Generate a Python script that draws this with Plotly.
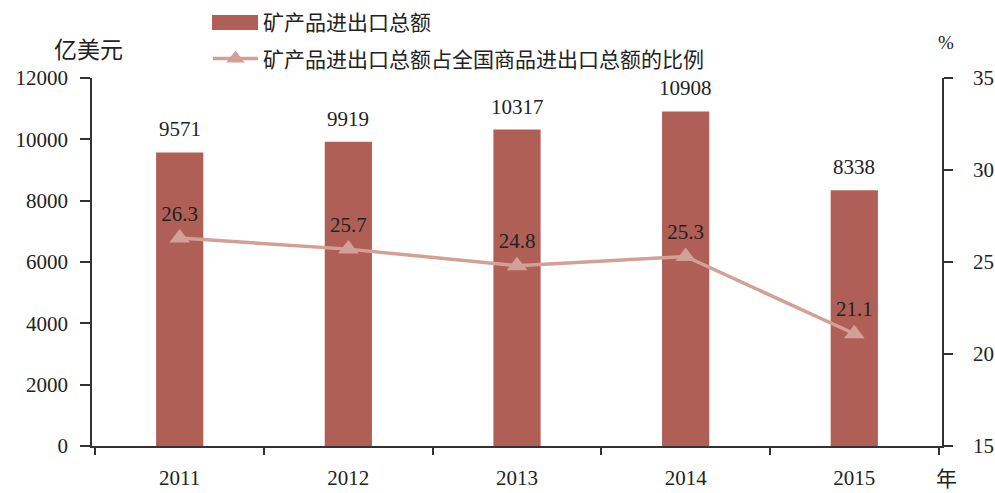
import plotly.graph_objects as go

years = ["2011", "2012", "2013", "2014", "2015"]
trade_total = [9571, 9919, 10317, 10908, 8338]
share_pct = [26.3, 25.7, 24.8, 25.3, 21.1]

bar_name = "矿产品进出口总额"
line_name = "矿产品进出口总额占全国商品进出口总额的比例"

FONT = "Liberation Serif, Times New Roman, Noto Sans CJK SC, serif"
CJK = "Noto Sans CJK SC, sans-serif"
AXIS_COLOR = "#333333"
TEXT_COLOR = "#222222"
BAR_COLOR = "#AF5F56"
LINE_COLOR = "#D3A096"

fig = go.Figure()
fig.add_trace(go.Bar(
    x=years, y=trade_total, name=bar_name, legendgroup="a",
    marker=dict(color=BAR_COLOR, line=dict(width=0)),
    width=0.28,
    yaxis="y",
))
fig.add_trace(go.Scatter(
    x=years, y=share_pct, name=line_name, legendgroup="b",
    mode="lines+markers+text",
    line=dict(color=LINE_COLOR, width=3.5),
    marker=dict(symbol="triangle-up", size=18, color=LINE_COLOR),
    text=[f"{v:.1f}" for v in share_pct], textposition="top center",
    textfont=dict(family=FONT, size=21, color=TEXT_COLOR),
    yaxis="y2",
))

for i, v in enumerate(trade_total):
    fig.add_annotation(x=i, y=v, xref="x", yref="y", text=str(v), showarrow=False,
                       yanchor="bottom", yshift=9,
                       font=dict(family=FONT, size=21, color=TEXT_COLOR))

W, H = 995, 493
L, R, T, B = 92, 53, 78, 47
pw, ph = W - L - R, H - T - B
def px(xp):
    return (xp - L) / pw
def py(yp):
    return (H - B - yp) / ph

fig.update_layout(
    width=W, height=H,
    margin=dict(l=L, r=R, t=T, b=B, autoexpand=False),
    plot_bgcolor="white", paper_bgcolor="white",
    font=dict(family=FONT, size=21, color=TEXT_COLOR),
    showlegend=True,
    legend=dict(
        x=px(208), y=py(2), xanchor="left", yanchor="top",
        orientation="v", bgcolor="rgba(0,0,0,0)", traceorder="grouped",
        font=dict(family=CJK, size=21, color=TEXT_COLOR),
        itemwidth=45, tracegroupgap=6,
    ),
    xaxis=dict(
        type="category", range=[-0.52, 4.52],
        showline=True, linecolor=AXIS_COLOR, linewidth=1.5,
        ticks="outside", tickson="boundaries", ticklen=7, tickcolor=AXIS_COLOR, tickwidth=1.5,
        ticklabelstandoff=12,
        showgrid=False, tickfont=dict(family=FONT, size=21, color=TEXT_COLOR),
    ),
    yaxis=dict(
        range=[0, 12000], dtick=2000, tickformat="d",
        showline=True, linecolor=AXIS_COLOR, linewidth=1.5,
        ticks="outside", ticklen=10, tickcolor=AXIS_COLOR, tickwidth=1.5,
        ticklabelstandoff=8,
        showgrid=False, zeroline=False,
        tickfont=dict(family=FONT, size=21, color=TEXT_COLOR),
    ),
    yaxis2=dict(
        range=[15, 35], dtick=5, overlaying="y", side="right",
        showline=True, linecolor=AXIS_COLOR, linewidth=1.5,
        ticks="outside", ticklen=9, tickcolor=AXIS_COLOR, tickwidth=1.5,
        ticklabelstandoff=16,
        showgrid=False, zeroline=False,
        tickfont=dict(family=FONT, size=21, color=TEXT_COLOR),
    ),
)

# wide rectangle legend key for the bar series (as in the reference)
fig.add_shape(type="rect", xref="paper", yref="paper",
              x0=px(212), x1=px(258), y0=py(15), y1=py(30),
              fillcolor=BAR_COLOR, line=dict(width=0), layer="above")

fig.add_annotation(text="亿美元", x=px(52), y=py(48), xref="paper", yref="paper",
                   xanchor="left", yanchor="middle", showarrow=False,
                   font=dict(family=CJK, size=23, color=TEXT_COLOR))
fig.add_annotation(text="%", x=px(946), y=py(42), xref="paper", yref="paper",
                   xanchor="center", yanchor="middle", showarrow=False,
                   font=dict(family=FONT, size=19, color=TEXT_COLOR))
fig.add_annotation(text="年", x=px(946), y=py(477), xref="paper", yref="paper",
                   xanchor="center", yanchor="middle", showarrow=False,
                   font=dict(family=CJK, size=21, color=TEXT_COLOR))

fig.write_html("out.html", config={"displayModeBar": False},
               post_script="document.body.style.margin='0';")
